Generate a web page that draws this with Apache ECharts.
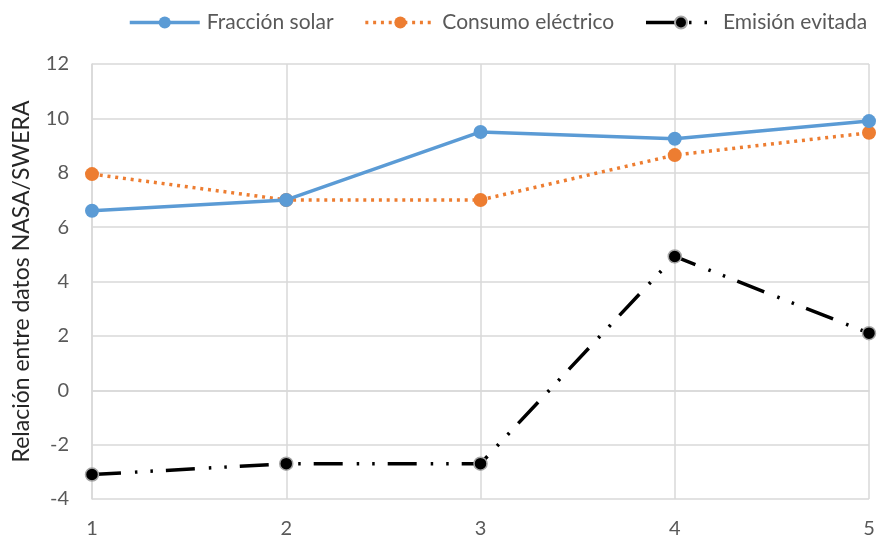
<!DOCTYPE html>
<html>
<head>
<meta charset="utf-8">
<script src="https://cdn.jsdelivr.net/npm/echarts@6/dist/echarts.min.js"></script>
<style>
  html, body { margin: 0; padding: 0; background: #fff; }
  #chart { width: 883px; height: 543px; }
</style>
</head>
<body>
<div id="chart"></div>
<script>
// Case numbers on the x axis
const cases = [1, 2, 3, 4, 5];
// Ratio between NASA and SWERA data for each indicator
const fraccionSolar = [6.6, 7.0, 9.5, 9.25, 9.9];
const consumoElectrico = [7.95, 7.0, 7.0, 8.65, 9.47];
const emisionEvitada = [-3.1, -2.7, -2.7, 4.92, 2.1];

const seriesNames = ['Fracción solar', 'Consumo eléctrico', 'Emisión evitada'];
const FONT = 'Lato, "Open Sans", sans-serif';

const pairs = arr => cases.map((c, i) => [c, arr[i]]);

const chart = echarts.init(document.getElementById('chart'));
chart.setOption({
  animation: false,
  backgroundColor: '#ffffff',
  textStyle: { fontFamily: FONT },
  legend: {
    top: 7,
    left: 123,
    itemWidth: 70,
    itemHeight: 15,
    itemGap: 30,
    lineStyle: { width: 3.5 },
    textStyle: { fontSize: 21, color: '#595959', fontFamily: FONT, padding: [0, 0, 0, 2] },
    data: seriesNames
  },
  grid: { left: 92, right: 14, top: 64, bottom: 44, containLabel: false },
  xAxis: {
    type: 'value',
    min: 1, max: 5, interval: 1,
    axisLine: { show: true, lineStyle: { color: '#d9d9d9', width: 1.5 } },
    axisTick: { show: false },
    axisLabel: { color: '#595959', fontSize: 20, margin: 20, fontFamily: FONT },
    splitLine: { show: true, lineStyle: { color: '#d9d9d9', width: 1.5 } }
  },
  yAxis: {
    type: 'value',
    min: -4, max: 12, interval: 2,
    name: 'Relación entre datos NASA/SWERA',
    nameLocation: 'middle',
    nameGap: 59,
    nameTextStyle: { color: '#262626', fontSize: 23, fontFamily: FONT },
    axisLine: { show: true, lineStyle: { color: '#d9d9d9', width: 1.5 } },
    axisTick: { show: false },
    axisLabel: { color: '#595959', fontSize: 20, margin: 23, fontFamily: FONT },
    splitLine: { show: true, lineStyle: { color: '#d9d9d9', width: 1.5 } }
  },
  series: [
    {
      name: seriesNames[0],
      type: 'line',
      data: pairs(fraccionSolar),
      symbol: 'circle',
      symbolSize: 14,
      itemStyle: { color: '#5b9bd5' },
      lineStyle: { color: '#5b9bd5', width: 3.5 },
      z: 3
    },
    {
      name: seriesNames[1],
      type: 'line',
      data: pairs(consumoElectrico),
      symbol: 'circle',
      symbolSize: 14,
      itemStyle: { color: '#ed7d31' },
      lineStyle: { color: '#ed7d31', width: 3.5, type: [3, 4.8], cap: 'butt' },
      z: 2
    },
    {
      name: seriesNames[2],
      type: 'line',
      data: pairs(emisionEvitada),
      symbol: 'circle',
      symbolSize: 13,
      itemStyle: { color: '#000000', borderColor: '#a6a6a6', borderWidth: 1.5 },
      lineStyle: { color: '#000000', width: 3.5, type: [29, 14, 2.5, 13, 2.5, 13], cap: 'butt' },
      z: 4
    }
  ]
});
</script>
</body>
</html>
